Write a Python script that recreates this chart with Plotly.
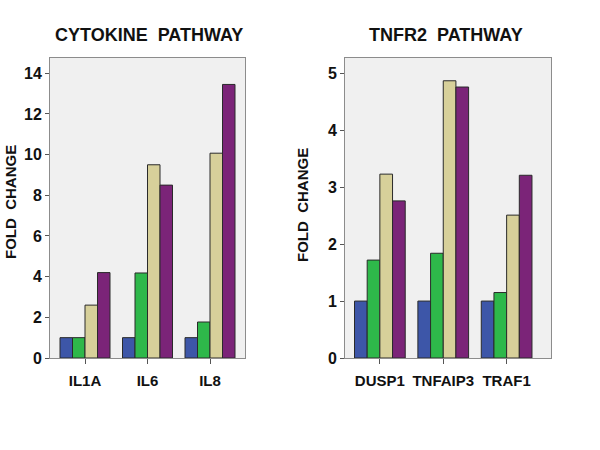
import plotly.graph_objects as go

W, H = 600, 450

cyto_genes = ["IL1A", "IL6", "IL8"]
cyto_blue = [1.0, 1.0, 1.0]
cyto_green = [1.0, 4.18, 1.77]
cyto_gold = [2.6, 9.5, 10.07]
cyto_purple = [4.2, 8.5, 13.45]

tnfr_genes = ["DUSP1", "TNFAIP3", "TRAF1"]
tnfr_blue = [1.0, 1.0, 1.0]
tnfr_green = [1.72, 1.84, 1.15]
tnfr_gold = [3.23, 4.87, 2.51]
tnfr_purple = [2.76, 4.76, 3.21]

cyto_ticks = [0, 2, 4, 6, 8, 10, 12, 14]
tnfr_ticks = [0, 1, 2, 3, 4, 5]

colors = ["#3D56A8", "#2EB84A", "#D7D09A", "#7B2478"]
FONT = "Liberation Sans, Arial, sans-serif"

fig = go.Figure()

def add_group(genes, series, xa, ya):
    for vals, c in zip(series, colors):
        fig.add_trace(go.Bar(
            x=genes, y=vals, xaxis=xa, yaxis=ya,
            marker=dict(color=c, line=dict(color="#2a2a2a", width=1)),
            showlegend=False, hoverinfo="x+y",
        ))

add_group(cyto_genes, [cyto_blue, cyto_green, cyto_gold, cyto_purple], "x", "y")
add_group(tnfr_genes, [tnfr_blue, tnfr_green, tnfr_gold, tnfr_purple], "x2", "y2")

def px(x):
    return x / W

def py(y):
    return 1 - y / H

base = dict(
    showline=True, mirror=True, linecolor="#8c8c8c", linewidth=1,
    ticks="outside", tickcolor="#555555", tickwidth=1,
    showgrid=False, zeroline=False, fixedrange=True, automargin=False,
)
yfont = dict(family=FONT, size=16, color="#111111", weight="bold")
xfont = dict(family=FONT, size=15, color="#111111", weight="bold")

ydom = [py(358), py(58)]

def note(text, x, y, size, angle=0):
    return dict(text="<b>" + text + "</b>", x=px(x), y=py(y), xref="paper", yref="paper",
                xanchor="center", yanchor="middle", showarrow=False,
                textangle=angle,
                font=dict(family=FONT, size=size, color="#111111"))

fig.update_layout(
    width=W, height=H,
    margin=dict(l=0, r=0, t=0, b=0, autoexpand=False),
    paper_bgcolor="white",
    plot_bgcolor="#F0F0F0",
    barmode="group", bargap=0.2, bargroupgap=0,
    xaxis=dict(domain=[px(50), px(245)], range=[-0.56, 2.56], ticklen=5,
               ticklabelstandoff=4, tickfont=xfont, anchor="y", **base),
    yaxis=dict(domain=ydom, range=[0, 14.75], tickvals=cyto_ticks, anchor="x",
               ticklen=4, tickfont=yfont, **base),
    xaxis2=dict(domain=[px(345), px(551)], range=[-0.55, 2.7], anchor="y2", ticklen=5,
                ticklabelstandoff=4, tickfont=xfont, **base),
    yaxis2=dict(domain=ydom, range=[0, 5.27], tickvals=tnfr_ticks, anchor="x2",
                ticklen=4, tickfont=yfont, **base),
    annotations=[
        note("CYTOKINE\u00a0 PATHWAY", 149, 35, 18),
        note("TNFR2\u00a0 PATHWAY", 446, 35, 18),
        note("FOLD\u00a0 CHANGE", 10, 202, 15, -90),
        note("FOLD\u00a0 CHANGE", 303, 205, 15, -90),
    ],
)

fig.write_html("out.html", config={"displayModeBar": False},
               post_script="document.body.style.margin='0';")
